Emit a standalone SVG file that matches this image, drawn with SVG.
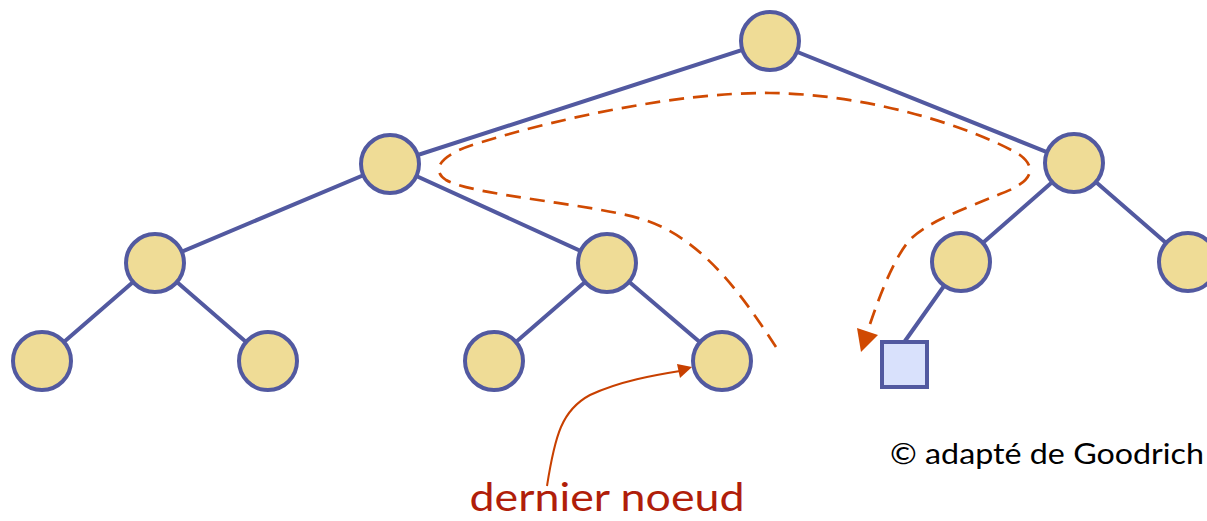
<svg xmlns="http://www.w3.org/2000/svg" width="1207" height="521" viewBox="0 0 1207 521">
<defs>
<style>
.edge{stroke:#5259A0;stroke-width:4;fill:none;stroke-linecap:round}
.node circle{fill:#EFDC96;stroke:#5259A0;stroke-width:4}
.leaf rect{fill:#D9E1FC;stroke:#5259A0;stroke-width:4}
.path{fill:none;stroke:#D04A02;stroke-width:2.7;stroke-dasharray:15 9}
.ptr{fill:none;stroke:#C84000;stroke-width:2}
</style>
</defs>
<rect width="1207" height="521" fill="#fff"/>
<g id="connectors">
<line class="edge" x1="770" y1="41" x2="390" y2="164" stroke-width="4.5"/>
<line class="edge" x1="770" y1="41" x2="1074" y2="163" stroke-width="4.5"/>
<line class="edge" x1="390" y1="164" x2="155" y2="263"/>
<line class="edge" x1="390" y1="164" x2="607" y2="263"/>
<line class="edge" x1="1074" y1="163" x2="961" y2="262"/>
<line class="edge" x1="1074" y1="163" x2="1188" y2="262"/>
<line class="edge" x1="155" y1="263" x2="42" y2="361"/>
<line class="edge" x1="155" y1="263" x2="268" y2="361"/>
<line class="edge" x1="607" y1="263" x2="494" y2="361"/>
<line class="edge" x1="607" y1="263" x2="722" y2="361"/>
<line class="edge" x1="961" y1="262" x2="905" y2="341"/>
</g>
<g id="n-root" class="node"><circle cx="770" cy="41" r="29"/></g>
<g id="n-l" class="node"><circle cx="390" cy="164" r="29"/></g>
<g id="n-r" class="node"><circle cx="1074" cy="163" r="29"/></g>
<g id="n-ll" class="node"><circle cx="155" cy="263" r="29"/></g>
<g id="n-lr" class="node"><circle cx="607" cy="263" r="29"/></g>
<g id="n-rl" class="node"><circle cx="961" cy="262" r="29"/></g>
<g id="n-rr" class="node"><circle cx="1188" cy="262" r="29"/></g>
<g id="n-lll" class="node"><circle cx="42" cy="361" r="29"/></g>
<g id="n-llr" class="node"><circle cx="268" cy="361" r="29"/></g>
<g id="n-lrl" class="node"><circle cx="494" cy="361" r="29"/></g>
<g id="n-lrr" class="node"><circle cx="722" cy="361" r="29"/></g>
<g id="n-new" class="leaf"><rect x="882" y="342" width="45" height="45"/></g>
<g id="traversal">
<path class="path" d="M776,347 C745,300 705,240 645,220 C590,203 475,196 446,180 C428,168 445,152 482,142 C560,118 680,92 770,93 C870,94 975,128 1020,155 C1040,170 1028,184 1000,194 C965,209 925,222 908,242 C892,262 878,300 868,330"/>
<path d="M857,328 L878,335 L861,352 z" fill="#D04A02"/>
</g>
<g id="pointer">
<path class="ptr" d="M547,486 C555,435 562,410 590,395 C620,381 655,375 680,371"/>
<path d="M677,364 L692,367 L680,378 z" fill="#C84000"/>
</g>
<text x="607" y="511" text-anchor="middle" font-family="Lato, 'Open Sans', 'Liberation Sans', sans-serif" font-size="38" fill="#B01E0A" textLength="275" lengthAdjust="spacingAndGlyphs">dernier noeud</text>
<text x="890" y="464" font-family="Lato, 'Open Sans', 'Liberation Sans', sans-serif" font-size="28" fill="#000" textLength="314" lengthAdjust="spacingAndGlyphs">© adapté de Goodrich</text>
</svg>
